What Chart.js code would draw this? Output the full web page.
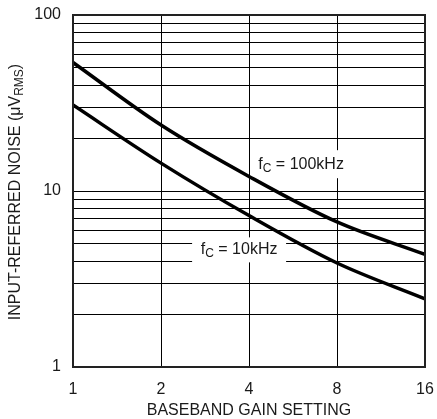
<!DOCTYPE html>
<html>
<head>
<meta charset="utf-8">
<script src="https://cdn.jsdelivr.net/npm/chart.js@4.4.1/dist/chart.umd.min.js"></script>
<style>
  html, body { margin: 0; padding: 0; background: #fff; }
  #wrap { width: 437px; height: 419px; }
</style>
</head>
<body>
<div id="wrap"><canvas id="noiseChart"></canvas></div>
<script>
// baseband gain setting vs input-referred noise (uV RMS)
const gainSettings = [1, 2, 4, 8, 16];
const noise100k = [53.7, 23.7, 12.1, 6.67, 4.36];
const noise10k = [30.8, 14.4, 7.25, 3.9, 2.44];

const xTickValues = [1, 2, 4, 8, 16];
const yTickValues = [1, 2, 3, 4, 5, 6, 7, 8, 9, 10, 20, 30, 40, 50, 60, 70, 80, 90, 100];
const yLabeled = [1, 10, 100];

const FONT = "'Liberation Sans', Arial, sans-serif";
const ink = '#1a1a1a';

// draws text with an optional subscript part, centred on (x, y)
function drawParts(ctx, parts, x, y, size) {
  const subSize = Math.round(size * 0.72);
  let total = 0;
  parts.forEach(p => {
    ctx.font = (p.sub ? subSize : size) + 'px ' + FONT;
    p.w = ctx.measureText(p.t).width;
    total += p.w;
  });
  let cx = x - total / 2;
  ctx.textAlign = 'left';
  ctx.textBaseline = 'middle';
  parts.forEach(p => {
    ctx.font = (p.sub ? subSize : size) + 'px ' + FONT;
    ctx.fillText(p.t, cx, p.sub ? y + 4 : y);
    cx += p.w;
  });
  return total;
}

const decorPlugin = {
  id: 'decor',
  beforeDatasetsDraw(chart) {
    const { ctx, scales: { x, y } } = chart;
    ctx.save();
    ctx.fillStyle = '#fff';
    // curve labels with white boxes
    const l1x = x.getPixelForValue(6.03), l1y = y.getPixelForValue(14.2);
    ctx.fillRect(l1x - 49, l1y - 14, 98, 28);
    const l2x = x.getPixelForValue(3.7), l2y = y.getPixelForValue(4.66);
    ctx.fillRect(l2x - 47, l2y - 12, 94, 25);
    ctx.fillStyle = ink;
    drawParts(ctx, [{ t: 'f' }, { t: 'C', sub: true }, { t: ' = 100kHz' }], l1x, l1y, 16);
    drawParts(ctx, [{ t: 'f' }, { t: 'C', sub: true }, { t: ' = 10kHz' }], l2x, l2y, 16);
    ctx.restore();
  },
  afterDraw(chart) {
    const { ctx, chartArea: a } = chart;
    ctx.save();
    ctx.strokeStyle = '#222';
    ctx.lineWidth = 2;
    ctx.strokeRect(a.left, a.top, a.right - a.left, a.bottom - a.top);
    ctx.fillStyle = ink;
    // x axis title
    drawParts(ctx, [{ t: 'BASEBAND GAIN SETTING' }], (a.left + a.right) / 2, a.bottom + 44, 16);
    // y axis title, rotated
    ctx.translate(16, (a.top + a.bottom) / 2 + 1);
    ctx.rotate(-Math.PI / 2);
    drawParts(ctx, [{ t: 'INPUT-REFERRED NOISE (\u03bcV' }, { t: 'RMS', sub: true }, { t: ')' }], 0, 0, 16);
    ctx.restore();
  }
};

new Chart(document.getElementById('noiseChart').getContext('2d'), {
  type: 'line',
  data: {
    datasets: [
      {
        label: 'fC = 100kHz',
        data: gainSettings.map((g, i) => ({ x: g, y: noise100k[i] })),
        borderColor: '#000',
        borderWidth: 3.5,
        pointRadius: 0,
        cubicInterpolationMode: 'monotone',
        fill: false
      },
      {
        label: 'fC = 10kHz',
        data: gainSettings.map((g, i) => ({ x: g, y: noise10k[i] })),
        borderColor: '#000',
        borderWidth: 3.5,
        pointRadius: 0,
        cubicInterpolationMode: 'monotone',
        fill: false
      }
    ]
  },
  options: {
    responsive: true,
    maintainAspectRatio: false,
    animation: false,
    layout: { padding: { top: 15, right: 12, left: 0, bottom: 0 } },
    plugins: {
      legend: { display: false },
      tooltip: { enabled: false }
    },
    scales: {
      x: {
        type: 'logarithmic',
        min: 1,
        max: 16,
        afterBuildTicks: s => { s.ticks = xTickValues.map(v => ({ value: v })); },
        afterFit: s => { s.height = 52; s.paddingLeft = 0; s.paddingRight = 0; },
        grid: { color: '#000', lineWidth: 1, drawTicks: false },
        border: { display: false },
        ticks: {
          autoSkip: false,
          maxRotation: 0,
          padding: 13,
          color: ink,
          font: { family: FONT, size: 16 },
          callback: v => String(v)
        }
      },
      y: {
        type: 'logarithmic',
        min: 1,
        max: 100,
        afterBuildTicks: s => { s.ticks = yTickValues.map(v => ({ value: v })); },
        afterFit: s => { s.width = 73; s.paddingTop = 0; s.paddingBottom = 0; },
        grid: { color: '#000', lineWidth: 1, drawTicks: false },
        border: { display: false },
        ticks: {
          autoSkip: false,
          padding: 12,
          color: ink,
          font: { family: FONT, size: 16 },
          callback: v => (yLabeled.includes(v) ? String(v) : '')
        }
      }
    }
  },
  plugins: [decorPlugin]
});
</script>
</body>
</html>
